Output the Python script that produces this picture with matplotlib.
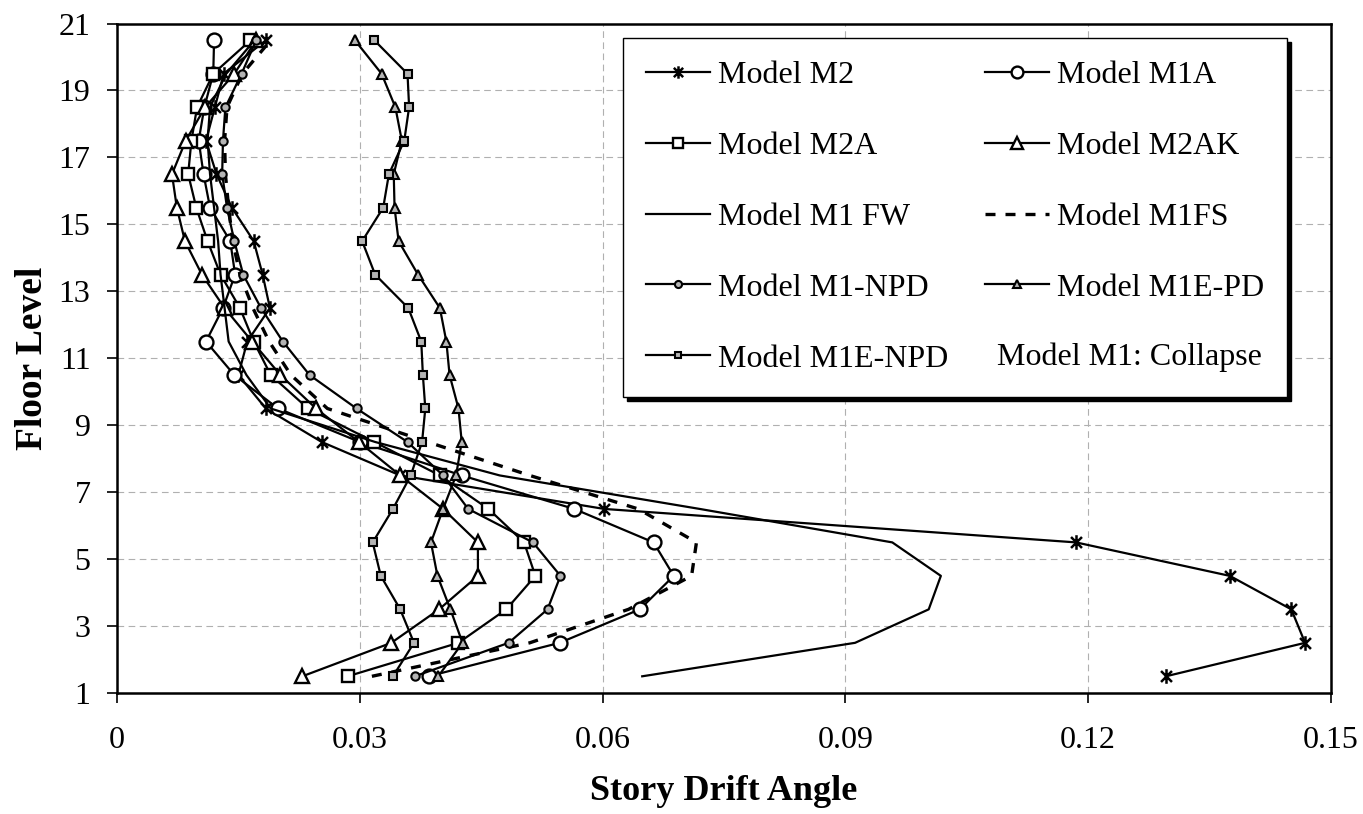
import matplotlib
matplotlib.use("Agg")
import matplotlib.pyplot as plt
import numpy as np
from matplotlib.path import Path

plt.rcParams['font.family'] = ['Liberation Serif', 'DejaVu Serif']

# story drift angle per floor (floors 1.5 ... 20.5)
floors = np.arange(1.5, 21.0, 1.0)

m2 = [0.1296, 0.1468, 0.1451, 0.1375, 0.1185, 0.0602, 0.0350, 0.0253, 0.0184, 0.0150,
      0.0161, 0.0189, 0.0180, 0.0169, 0.0142, 0.0123, 0.0110, 0.0121, 0.0132, 0.0184]
m1a = [0.0385, 0.0547, 0.0646, 0.0688, 0.0663, 0.0565, 0.0426, 0.0300, 0.0199, 0.0145,
       0.0110, 0.0131, 0.0146, 0.0140, 0.0115, 0.0107, 0.0101, 0.0108, 0.0119, 0.0120]
m2a = [0.0285, 0.0422, 0.0481, 0.0517, 0.0503, 0.0459, 0.0399, 0.0318, 0.0236, 0.0190,
       0.0169, 0.0152, 0.0128, 0.0112, 0.0098, 0.0088, 0.0092, 0.0099, 0.0119, 0.0165]
m2ak = [0.0229, 0.0339, 0.0398, 0.0446, 0.0446, 0.0403, 0.0350, 0.0299, 0.0246, 0.0202,
        0.0167, 0.0133, 0.0105, 0.0084, 0.0074, 0.0068, 0.0085, 0.0109, 0.0145, 0.0172]
m1fw = [0.0649, 0.0912, 0.1003, 0.1018, 0.0958, 0.0720, 0.0473, 0.0319, 0.0190, 0.0160,
        0.0138, 0.0133, 0.0128, 0.0125, 0.0120, 0.0115, 0.0112, 0.0115, 0.0135, 0.0170]
m1fs = [0.0315, 0.0510, 0.0632, 0.0710, 0.0716, 0.0644, 0.0510, 0.0384, 0.0260, 0.0215,
        0.0188, 0.0168, 0.0152, 0.0143, 0.0138, 0.0134, 0.0133, 0.0136, 0.0155, 0.0190]
m1npd = [0.0368, 0.0484, 0.0532, 0.0548, 0.0514, 0.0434, 0.0403, 0.0359, 0.0296, 0.0238,
         0.0205, 0.0178, 0.0156, 0.0145, 0.0136, 0.0130, 0.0131, 0.0134, 0.0154, 0.0172]
m1epd = [0.0397, 0.0427, 0.0412, 0.0396, 0.0388, 0.0403, 0.0419, 0.0426, 0.0422, 0.0411,
         0.0407, 0.0399, 0.0372, 0.0348, 0.0343, 0.0342, 0.0352, 0.0344, 0.0327, 0.0294]
m1enpd = [0.0341, 0.0367, 0.0350, 0.0326, 0.0316, 0.0341, 0.0363, 0.0377, 0.0381, 0.0378,
          0.0376, 0.0360, 0.0319, 0.0303, 0.0329, 0.0336, 0.0355, 0.0361, 0.0359, 0.0318]

xticks = [0, 0.03, 0.06, 0.09, 0.12, 0.15]
xticklabels = ['0', '0.03', '0.06', '0.09', '0.12', '0.15']
yticks = [1, 3, 5, 7, 9, 11, 13, 15, 17, 19, 21]

# asterisk marker: vertical bar plus an X
asterisk = Path([(0, -1), (0, 1), (-0.75, -0.75), (0.75, 0.75), (-0.75, 0.75), (0.75, -0.75)],
                [Path.MOVETO, Path.LINETO, Path.MOVETO, Path.LINETO, Path.MOVETO, Path.LINETO])

fig = plt.figure(figsize=(13.63, 8.14), dpi=100)
ax = fig.add_axes([0.0858, 0.1486, 0.8907, 0.8225])

lw = 1.6
gray = '#b4b4b4'
big = dict(color='k', lw=lw, mec='k', mew=1.7, mfc='white')
small = dict(color='k', lw=lw, mec='k', mew=1.5, mfc=gray)

h_m2, = ax.plot(m2, floors, marker=asterisk, ms=10.5, color='k', lw=lw, mew=1.8, label='Model M2')
h_m1a, = ax.plot(m1a, floors, marker='o', ms=10, label='Model M1A', **big)
h_m2a, = ax.plot(m2a, floors, marker='s', ms=8.5, label='Model M2A', **big)
h_m2ak, = ax.plot(m2ak, floors, marker='^', ms=10.5, label='Model M2AK', **big)
h_fw, = ax.plot(m1fw, floors, color='k', lw=lw, label='Model M1 FW')
h_fs, = ax.plot(m1fs, floors, color='k', lw=2.4, ls=(0, (3, 3)), label='Model M1FS')
h_npd, = ax.plot(m1npd, floors, marker='o', ms=6, label='Model M1-NPD', **small)
h_epd, = ax.plot(m1epd, floors, marker='^', ms=7, label='Model M1E-PD', **small)
h_enpd, = ax.plot(m1enpd, floors, marker='s', ms=5.2, label='Model M1E-NPD', **small)

ax.set_xlim(0, 0.15)
ax.set_ylim(1, 21)
ax.set_xticks(xticks)
ax.set_xticklabels(xticklabels)
ax.set_yticks(yticks)
ax.tick_params(labelsize=23, direction='out', length=7, width=1.2)
ax.tick_params(axis='x', pad=17)
ax.tick_params(axis='y', pad=12)
ax.grid(True, color='#b0b0b0', lw=0.8, ls=(0, (6, 4)), zorder=0)
ax.set_axisbelow(True)
for s in ax.spines.values():
    s.set_linewidth(1.8)

ax.set_xlabel('Story Drift Angle', fontsize=26, fontweight='bold', labelpad=14)
ax.set_ylabel('Floor Level', fontsize=27, fontweight='bold', labelpad=6)

handles = [h_m2, h_m2a, h_fw, h_npd, h_enpd, h_m1a, h_m2ak, h_fs, h_epd]
leg = ax.legend(handles=handles, labels=[h.get_label() for h in handles],
                ncol=2, loc='upper left', bbox_to_anchor=(0.417, 0.979),
                fontsize=23, frameon=True, fancybox=False,
                edgecolor='k', framealpha=1, borderpad=0.72, labelspacing=1.3,
                handlelength=2.0, handletextpad=0.25, columnspacing=1.15,
                borderaxespad=0, markerscale=0.85,
                shadow={'ox': 3, 'oy': -3.5, 'color': 'k', 'alpha': 1})
leg.get_frame().set_linewidth(1.0)

ax.text(0.725, 0.490, 'Model M1: Collapse', transform=ax.transAxes,
        fontsize=23, ha='left', va='baseline', zorder=10)

fig.savefig('out.png', dpi=100)
